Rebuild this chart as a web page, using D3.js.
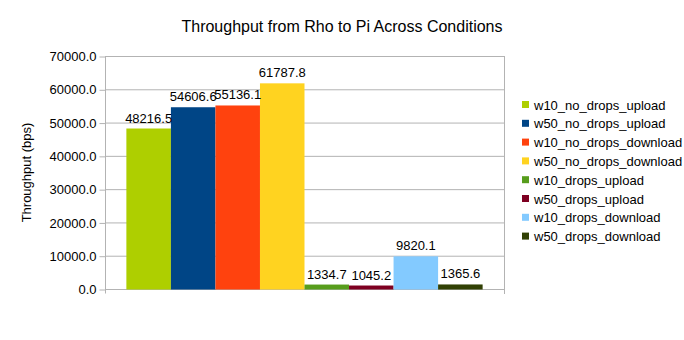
<!DOCTYPE html>
<html>
<head>
<meta charset="utf-8">
<script src="https://cdn.jsdelivr.net/npm/d3@7"></script>
<style>
  html, body { margin: 0; padding: 0; background: #fff; }
  svg { display: block; font-family: "Liberation Sans", Arial, sans-serif; }
</style>
</head>
<body>
<svg id="chart" width="684" height="340"></svg>
<script>
// Series names, values and colours (one bar per series)
const seriesNames = [
  "w10_no_drops_upload", "w50_no_drops_upload",
  "w10_no_drops_download", "w50_no_drops_download",
  "w10_drops_upload", "w50_drops_upload",
  "w10_drops_download", "w50_drops_download"
];
const seriesValues = [48216.5, 54606.6, 55136.1, 61787.8, 1334.7, 1045.2, 9820.1, 1365.6];
const seriesColors = ["#aecf00", "#004586", "#ff420e", "#ffd320", "#579d1c", "#7e0021", "#83caff", "#314004"];
const yTicks = [0, 10000, 20000, 30000, 40000, 50000, 60000, 70000];

const svg = d3.select("#chart");
const plot = { left: 105, right: 504, top: 56, bottom: 289 };

const y = d3.scaleLinear().domain([0, 70000]).range([plot.bottom, plot.top]);
const x = d3.scaleBand().domain(seriesNames)
  .range([plot.left, plot.right]).paddingInner(0).paddingOuter(0.48);

// Title
svg.append("text")
  .attr("x", 342).attr("y", 32)
  .attr("text-anchor", "middle")
  .attr("font-size", 16).attr("fill", "#000")
  .text("Throughput from Rho to Pi Across Conditions");

// Horizontal gridlines
svg.append("g").selectAll("line").data(yTicks).join("line")
  .attr("x1", plot.left).attr("x2", plot.right)
  .attr("y1", d => y(d) + 0.5).attr("y2", d => y(d) + 0.5)
  .attr("stroke", "#b3b3b3").attr("stroke-width", 1);

// Right border of the plot area
svg.append("line")
  .attr("x1", plot.right + 0.5).attr("x2", plot.right + 0.5)
  .attr("y1", plot.top).attr("y2", plot.bottom + 5)
  .attr("stroke", "#b3b3b3");

// Y axis
const yAxis = d3.axisLeft(y).tickValues(yTicks)
  .tickFormat(d3.format(".1f")).tickSize(6).tickPadding(3);
const yg = svg.append("g").attr("transform", `translate(${plot.left + 0.5},0.5)`).call(yAxis);
yg.select(".domain").attr("stroke", "#b3b3b3").attr("d", `M0,${plot.top}V${plot.bottom + 4}`);
yg.selectAll(".tick line").attr("stroke", "#b3b3b3");
yg.selectAll(".tick text").attr("font-size", 13).attr("fill", "#000")
  .attr("font-family", "Liberation Sans, Arial, sans-serif");

// Y axis title
svg.append("text")
  .attr("transform", `translate(31,${(plot.top + plot.bottom) / 2}) rotate(-90)`)
  .attr("text-anchor", "middle")
  .attr("font-size", 13).attr("fill", "#000")
  .text("Throughput (bps)");

// Bars
svg.append("g").selectAll("rect").data(seriesNames).join("rect")
  .attr("x", d => x(d))
  .attr("width", x.bandwidth())
  .attr("y", (d, i) => y(seriesValues[i]))
  .attr("height", (d, i) => plot.bottom - y(seriesValues[i]) + 0.5)
  .attr("fill", (d, i) => seriesColors[i]);

// Value labels
svg.append("g").selectAll("text").data(seriesNames).join("text")
  .attr("x", d => x(d) + x.bandwidth() / 2)
  .attr("y", (d, i) => y(seriesValues[i]) - 6)
  .attr("text-anchor", "middle")
  .attr("font-size", 13).attr("fill", "#000")
  .text((d, i) => d3.format(".1f")(seriesValues[i]));

// Legend
const legend = svg.append("g").attr("transform", "translate(522,0)");
const rows = legend.selectAll("g").data(seriesNames).join("g")
  .attr("transform", (d, i) => `translate(0,${105 + i * 18.8})`);
rows.append("rect")
  .attr("x", 0).attr("y", -4).attr("width", 7).attr("height", 7)
  .attr("fill", (d, i) => seriesColors[i]);
rows.append("text")
  .attr("x", 12).attr("y", 4.5)
  .attr("font-size", 13).attr("fill", "#000")
  .text(d => d);
</script>
</body>
</html>
